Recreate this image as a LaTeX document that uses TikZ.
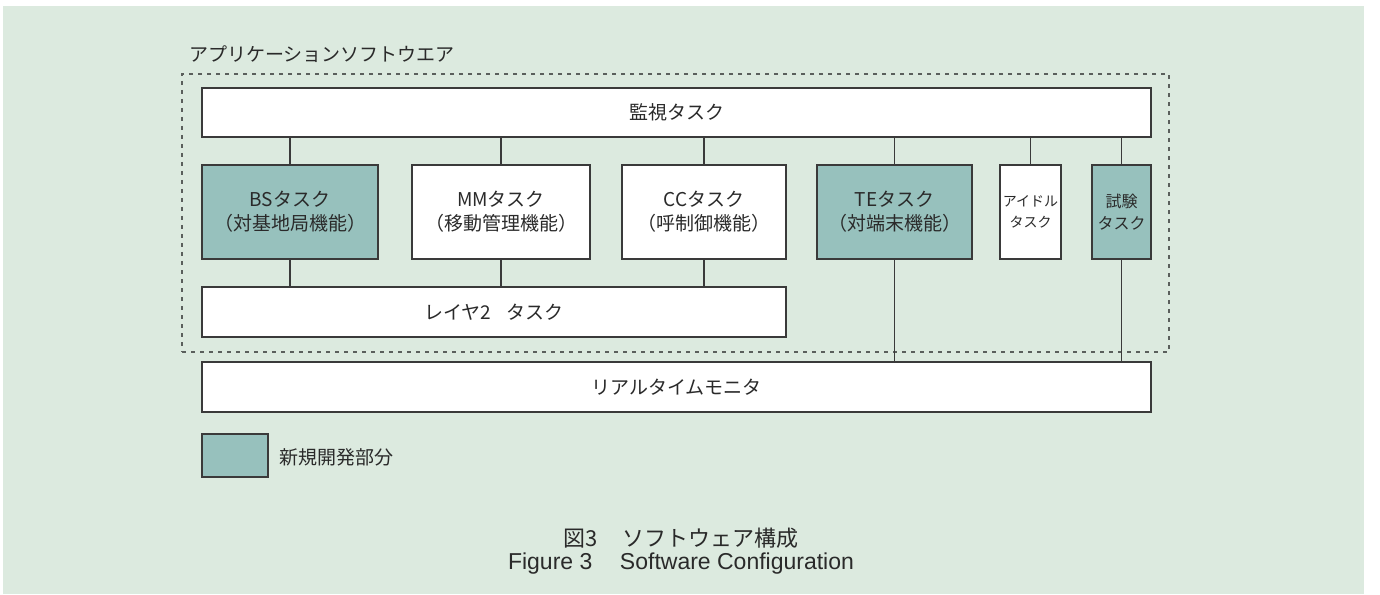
\documentclass[tikz,border=0pt]{standalone}
\usepackage{fontspec}
\setmainfont{Liberation Sans}
\newfontfamily\jp{Noto Sans CJK JP}
\definecolor{panelc}{HTML}{DCEADF}
\definecolor{newdev}{HTML}{97C1BD}
\definecolor{linec}{HTML}{3A3A3A}
\definecolor{textc}{HTML}{2A2A2A}
\definecolor{dashc}{HTML}{5A5F5C}
\tikzset{
  box/.style={draw=linec, line width=1.4pt, fill=white, inner sep=0pt, outer sep=0pt,
    align=center, text=textc, font=\jp\fontsize{19}{24}\selectfont},
  newbox/.style={box, fill=newdev},
  conn/.style={draw=linec, line width=1.4pt},
  appbox/.style={draw=dashc, line width=2pt, dash pattern=on 4pt off 5pt, inner sep=0pt, outer sep=0pt},
  lbl/.style={text=textc, inner sep=0pt, font=\jp\fontsize{19}{24}\selectfont}
}
\begin{document}
\begin{tikzpicture}[x=1pt,y=-1pt]
\useasboundingbox (0,0) rectangle (1380,594);
\fill[white] (0,0) rectangle (1380,594);
\fill[panelc] (3,6) rectangle (1364,594);

% application software region
\node[appbox, minimum width=987pt, minimum height=278pt] (app) at (675.5,213) {};
\node[lbl, anchor=west] (title) at (189,54) {アプリケーションソフトウエア};

% boxes
\node[box, minimum width=949pt, minimum height=49pt] (mon) at (676.5,112.5) {監視タスク};
\node[newbox, minimum width=176pt, minimum height=94pt] (bs) at (290,212) {BSタスク\\（対基地局機能）};
\node[box, minimum width=178pt, minimum height=94pt] (mm) at (501,212) {MMタスク\\（移動管理機能）};
\node[box, minimum width=164pt, minimum height=94pt] (cc) at (704,212) {CCタスク\\（呼制御機能）};
\node[newbox, minimum width=155pt, minimum height=94pt] (te) at (894.5,212) {TEタスク\\（対端末機能）};
\node[box, minimum width=61pt, minimum height=94pt, font=\jp\fontsize{14}{21}\selectfont] (idle) at (1030.5,212) {アイドル\\タスク};
\node[newbox, minimum width=59pt, minimum height=94pt, font=\jp\fontsize{16}{22}\selectfont] (test) at (1121.5,212) {試験\\タスク};
\node[box, minimum width=584pt, minimum height=50pt] (l2) at (494,312) {レイヤ2\hspace{0.8em}タスク};
\node[box, minimum width=949pt, minimum height=50pt] (rtm) at (676.5,387) {リアルタイムモニタ};

% connectors
\foreach \n in {bs,mm,cc,te,idle,test}
  \draw[conn] (\n.north |- mon.south) -- (\n.north);
\foreach \n in {bs,mm,cc}
  \draw[conn] (\n.south) -- (\n.south |- l2.north);
\foreach \n in {te,test}
  \draw[conn] (\n.south) -- (\n.south |- rtm.north);

% legend
\node[newbox, minimum width=66pt, minimum height=43pt] (leg) at (235,455.5) {};
\node[lbl, anchor=west] (legt) at (279,457) {新規開発部分};

% caption
\node[lbl, font=\jp\fontsize{22}{26}\selectfont] (cap1) at (681,538) {図3\hspace{1.1em}ソフトウェア構成};
\node[text=textc, inner sep=0pt, font=\fontsize{23}{27}\selectfont] (cap2) at (681,564) {Figure 3\hspace{1.2em}Software Configuration};
\end{tikzpicture}
\end{document}
